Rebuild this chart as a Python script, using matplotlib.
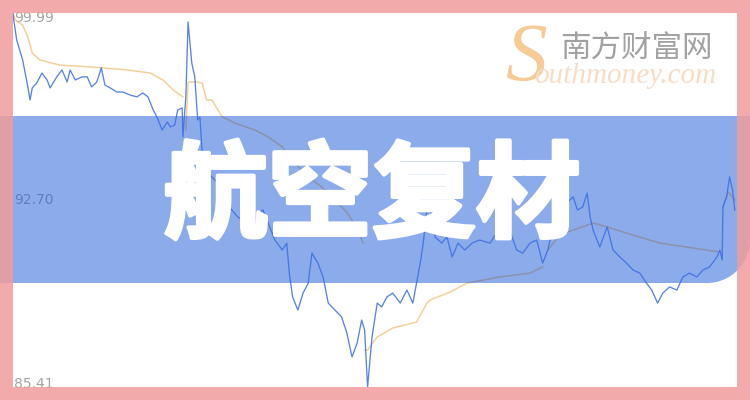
import matplotlib
matplotlib.use("Agg")
import matplotlib.pyplot as plt
import matplotlib.patheffects as pe
from matplotlib.path import Path
from matplotlib.patches import PathPatch, Rectangle

# minutes from the first open, 4 sessions + start of the 5th
price_t = [0, 1, 5, 13, 20, 23, 26, 32, 39, 46, 50, 59, 66, 73, 77, 84, 93, 100, 106, 113,
           119, 124, 131, 140, 148, 158, 167, 175, 182, 189, 194, 201, 208, 212, 218, 222, 228, 229,
           233, 236, 241, 245, 249, 252, 255, 263, 276, 286, 295, 303, 317, 326, 337, 344, 353,
           363, 369, 373, 377, 384, 391, 398, 403, 411, 418, 425, 434, 443, 450, 457, 464, 470, 474,
           478, 484, 491, 497, 504, 512, 522, 531, 539, 544, 549, 553, 558, 562, 569, 578, 585,
           592, 600, 609, 619, 629, 643, 652, 666, 679, 687, 697, 706, 714,
           721, 728, 737, 755, 761, 768, 774, 778, 782, 791, 801, 809, 818, 827, 836, 845, 854,
           861, 869, 876, 885, 895, 903, 912, 922, 930, 939, 949, 953,
           956, 957, 962, 966, 970, 973]
price = [99.99, 99.72, 98.94, 98.16, 97.11, 96.60, 97.07, 97.26, 97.65, 97.38, 97.07, 97.50, 97.77,
         97.30, 97.77, 97.38, 97.50, 97.50, 97.11, 97.30, 97.85, 97.18, 97.07, 96.91, 96.91, 96.79,
         96.72, 96.87, 96.72, 96.21, 95.94, 95.43, 95.74, 95.55, 95.62, 96.21, 96.29, 95.16,
         96.72, 99.64, 98.04, 97.50, 95.82, 95.94, 94.53, 93.75, 93.36, 92.58, 92.31, 92.04, 91.80,
         92.04, 92.31, 91.80, 91.14, 90.75, 91.02, 89.70, 88.92, 88.41, 89.07, 89.46, 90.63, 90.24,
         89.70, 88.68, 88.41, 88.14, 87.52, 86.58, 87.13, 88.02, 87.63,
         85.41, 87.36, 88.68, 88.53, 88.92, 89.07, 88.68, 89.19, 88.68, 89.46, 90.24, 91.02, 92.31,
         92.43, 91.26, 91.02, 91.26, 90.48, 91.02, 90.75, 91.02, 91.14, 91.02, 91.41, 91.80, 90.75,
         90.63, 91.02, 91.14, 90.24,
         90.75, 91.65, 92.31, 92.82, 92.31, 92.43, 92.97, 92.04, 91.53, 90.87, 91.65, 90.75, 90.48,
         90.24, 89.97, 89.85, 89.46, 89.19, 88.68, 89.07, 89.31, 89.19, 89.70, 89.85, 89.70, 89.97,
         90.09, 90.48, 90.75,
         90.36, 92.43, 92.82, 93.60, 93.09, 92.31]

# average price line, restarted every session
avg1_t = [0, 3, 13, 20, 26, 36, 63, 108, 154, 185, 202, 216, 229]
avg1 = [99.99, 99.72, 99.52, 99.05, 98.43, 98.16, 97.96, 97.88, 97.77, 97.65, 97.38, 96.99, 96.72]
avg2_t = [233, 236, 248, 255, 261, 268, 282, 299, 326, 344, 363, 380, 398, 416, 434, 451, 465, 472]
avg2 = [95.43, 97.30, 97.30, 97.26, 96.60, 96.60, 95.94, 95.70, 95.43, 95.16, 94.77, 94.14, 93.60,
        93.21, 92.70, 92.19, 91.53, 91.02]
avg3_t = [474, 478, 491, 512, 544, 558, 562, 589, 612, 656, 697, 714]
avg3 = [86.85, 86.85, 87.36, 87.71, 87.94, 88.68, 88.80, 89.11, 89.46, 89.70, 89.85, 90.09]
avg4_t = [721, 737, 755, 782, 801, 827, 872, 916, 953]
avg4 = [90.75, 91.34, 91.53, 91.80, 91.65, 91.41, 91.02, 90.83, 90.67]
avg5_t = [957, 964, 970, 973]
avg5 = [92.43, 93.01, 92.82, 92.70]
avg_days = [(avg1_t, avg1), (avg2_t, avg2), (avg3_t, avg3), (avg4_t, avg4), (avg5_t, avg5)]

y_low, y_mid, y_high = 85.41, 92.70, 99.99
t_end = 976
title = "航空复材"
site_cn = "南方财富网"
site_en = "outhmoney.com"

W, H = 750, 400
fig = plt.figure(figsize=(7.5, 4), dpi=100)
fig.patch.set_facecolor("white")
chart_pos = [13 / W, 13 / H, 724 / W, 374 / H]


def pixel_axes(z):
    a = fig.add_axes([0, 0, 1, 1], zorder=z)
    a.patch.set_alpha(0)
    a.set_xlim(0, W)
    a.set_ylim(H, 0)
    a.axis("off")
    return a


def chart_axes(z):
    a = fig.add_axes(chart_pos, zorder=z)
    a.patch.set_alpha(0)
    a.set_xlim(0, t_end)
    a.set_ylim(y_low, y_high)
    a.axis("off")
    return a


# price labels (under the band)
bg = pixel_axes(0)
lab_kw = dict(fontsize=10, ha="left", va="center", color="#a4a4a4")
bg.text(14, 18, f"{y_high:.2f}", **lab_kw)
bg.text(14, 200, f"{y_mid:.2f}", fontsize=10, ha="left", va="center", color="#1c1c2c")
bg.text(14, 384, f"{y_low:.2f}", **lab_kw)

# average line, under the band
ax_avg = chart_axes(1)
for tt, vv in avg_days:
    ax_avg.plot(tt, vv, color="#f0c27a", lw=1.1, alpha=0.75)

# the blue band
band_ax = pixel_axes(2)
r = 43
top, bot = 116, 283
verts = [(0, top), (W, top), (W, bot - r), (W, bot - r * 0.45), (W - r * 0.45, bot),
         (W - r, bot), (0, bot), (0, top)]
codes = [Path.MOVETO, Path.LINETO, Path.LINETO, Path.CURVE4, Path.CURVE4, Path.CURVE4,
         Path.LINETO, Path.CLOSEPOLY]
band = PathPatch(Path(verts, codes), facecolor="#7096e6", edgecolor="none", alpha=0.8)
band_ax.add_patch(band)

# price line on top, plus the greyish look of the average inside the band
ax = chart_axes(3)
for tt, vv in avg_days:
    ln, = ax.plot(tt, vv, color="#8c8c9c", lw=1.0, alpha=0.75)
    ln.set_clip_path(band)
ax.plot(price_t, price, color="#3c6ee1", lw=0.95, alpha=0.85)

# title, watermark, frame
top_ax = pixel_axes(4)
top_ax.text(372, 198, title, fontsize=75, fontweight="bold", color="white",
            family=["Noto Sans CJK SC", "DejaVu Sans"], ha="center", va="center",
            path_effects=[pe.withStroke(linewidth=3, foreground="white")])

top_ax.text(526, 60, "S", fontsize=60, style="italic", color="#f6cc96",
            family=["Liberation Serif"], ha="center", va="center")
top_ax.text(636, 49, site_cn, fontsize=22, color="#a2a2a2",
            family=["Noto Sans CJK SC", "DejaVu Sans"], ha="center", va="center")
top_ax.text(625, 76, site_en, fontsize=21, style="italic", color="#f8dcc4",
            family=["Liberation Serif"], ha="center", va="center")

pink = (240 / 255, 157 / 255, 155 / 255)
b = 13
for x0, y0, w, h in [(0, 0, W, b), (0, H - b, W, b), (0, b, b, H - 2 * b), (W - b, b, b, H - 2 * b)]:
    top_ax.add_patch(Rectangle((x0, y0), w, h, facecolor=pink, edgecolor="none", alpha=0.85))

fig.savefig("out.png", dpi=100)
